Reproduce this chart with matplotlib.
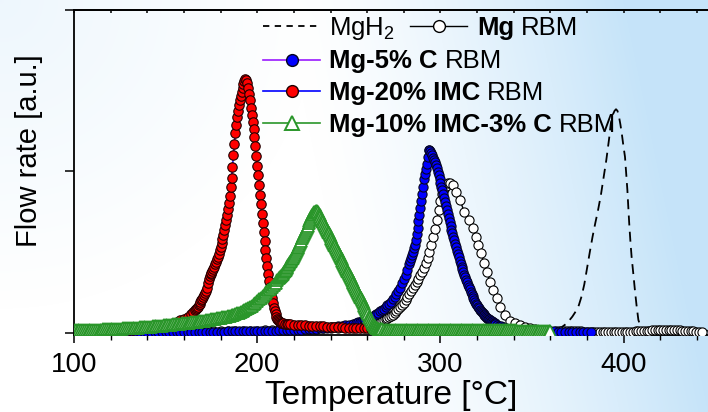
import numpy as np
import matplotlib
matplotlib.use("Agg")
import matplotlib.pyplot as plt
from matplotlib.lines import Line2D

plt.rcParams['font.family'] = ['Liberation Sans', 'DejaVu Sans']
plt.rcParams['mathtext.fontset'] = 'custom'
plt.rcParams['mathtext.rm'] = 'Liberation Sans'
plt.rcParams['mathtext.it'] = 'Liberation Sans:italic'
plt.rcParams['mathtext.bf'] = 'Liberation Sans:bold'

# ---------------------------------------------------------------- data
# (temperature [°C], flow rate [a.u.])
mgh2 = [(355, 0.0), (360, .005), (363, .015), (366, .033), (369, .058), (372, .1),
        (374, .135), (375.5, .17), (377, .225), (378.5, .3), (380, .4), (381.5, .5),
        (383, .595), (384.5, .68), (386, .76), (387.5, .85), (389, .96), (390.5, 1.07),
        (392, 1.2), (393, 1.3), (394, 1.35), (395, 1.375), (395.8, 1.385), (396.6, 1.375),
        (397.4, 1.34), (398.2, 1.29), (399, 1.23), (399.8, 1.16), (400.7, 1.09),
        (401.4, .98), (402, .884), (402.5, .78), (403, .678), (403.6, .575), (404.3, .471),
        (405.2, .37), (406.1, .265), (407, .17), (408, .079), (409, .045), (410.5, .03),
        (413, .022), (418, .018), (425, .015), (435, .013), (446, .012)]

mg_rbm = [(100, .003), (104, .003), (108, .003), (112, .003), (116, .003), (120, .004),
          (124, .004), (128, .004), (132, .004), (136, .004), (140, .005), (144, .005),
          (148, .005), (152, .005), (156, .006), (160, .006), (164, .006), (168, .007),
          (172, .007), (176, .008), (180, .008), (184, .009), (188, .01), (192, .011),
          (196, .012), (200, .013), (204, .014), (208, .015), (212, .016), (216, .018),
          (220, .019), (224, .021), (228, .023), (232, .025), (236, .027), (240, .029),
          (244, .032), (248, .035), (252, .038), (256, .041),
          (259, .045), (260, .047), (261, .049), (262, .051), (263, .054), (264, .057),
          (265, .06), (266, .064), (267, .068), (268, .072), (269, .077), (270, .082),
          (271, .088), (272, .095), (273, .103), (274, .112), (275, .122), (276, .133),
          (277, .145), (278, .158), (279, .172), (280, .187), (281, .203), (282, .22),
          (283, .238), (284, .257), (285, .277), (286, .296), (287, .315), (288, .335),
          (289, .355), (290, .378), (291, .402), (292, .43), (293, .46), (294, .5),
          (295, .545), (296, .59), (297, .64), (298, .7), (299, .76), (300, .815),
          (301, .86), (302, .89), (303, .912), (304, .925),
          (305.2, .93), (306.8, .915), (308.5, .874), (310.7, .822), (312.9, .75),
          (315.3, .698), (317.6, .647), (319.4, .595), (320.7, .544), (322, .492),
          (323.8, .434), (325.3, .378), (327.1, .316), (328.9, .265), (330.7, .213),
          (332.5, .161), (335.2, .11), (337.9, .074), (340.7, .058), (343.5, .045),
          (346.3, .035), (349, .027), (351.8, .021), (354.5, .017), (357.3, .014),
          (360, .012), (362.8, .01),
          (364.5, .01), (366, .01), (367.5, .009), (369, .009), (370.5, .009), (372, .008),
          (373.5, .008), (375, .008), (376.5, .008), (378, .007), (379.5, .007), (381, .007),
          (382.5, .007), (384, .007), (385.5, .007), (387, .006), (388.5, .006), (390, .006),
          (391.5, .006), (393, .006), (394.5, .006), (396, .006), (397.5, .006), (399, .006),
          (400.5, .006), (402, .007), (403.5, .007), (405, .007), (406.5, .008), (408, .009),
          (409.5, .01), (411, .011), (412.5, .012), (414, .013), (415.5, .014), (417, .015),
          (418.5, .016), (420, .017), (421.5, .017), (423, .018), (424.5, .018), (426, .017),
          (427.5, .017), (429, .016), (430.5, .015), (432, .013), (433.5, .012), (435, .01),
          (436.5, .009), (438, .008), (439.5, .007), (441, .006), (442.5, .005)]

mg_5c = [(100, .003), (102, .003), (104, .003), (106, .003), (108, .003), (110, .003),
         (112, .003), (114, .003), (116, .003), (118, .003), (120, .003), (122, .003),
         (124, .003), (126, .004), (128, .004), (130, .004), (132, .004), (134, .004),
         (136, .004), (138, .004), (140, .004), (142, .004), (144, .005), (146, .005),
         (148, .005), (150, .005), (152, .005), (154, .005), (156, .005), (158, .005),
         (160, .005), (162, .005), (164, .006), (166, .006), (168, .006), (170, .006),
         (172, .006), (174, .007), (176, .007), (178, .007), (180, .007), (182, .007),
         (184, .008), (186, .008), (188, .008), (190, .008), (192, .009), (194, .009),
         (196, .009), (198, .01), (200, .01), (202, .01), (204, .011), (206, .011),
         (208, .012), (210, .013), (212, .014), (214, .015), (216, .015), (218, .016),
         (220, .017), (222, .018), (224, .019), (226, .021), (228, .022), (230, .024),
         (232, .025), (234, .027), (236, .029), (238, .031), (240, .033),
         (242, .036), (244, .039), (246, .042), (248, .046), (250, .05), (252, .055),
         (254, .061), (255, .064), (256, .068), (257, .072), (258, .076), (259, .081),
         (260, .086), (261, .091), (262, .097), (263, .103), (264, .11), (265, .117),
         (266, .124), (267, .132), (268, .14), (269, .149), (270, .158), (271, .169),
         (272, .18), (273, .193), (274, .207), (275, .223), (276, .24), (277, .26),
         (278, .28), (279, .305), (280, .332), (281, .36), (282, .39), (283, .425),
         (283.5, .443), (284, .462),
         (284.5, .482), (285, .502), (285.5, .522), (286, .545), (286.5, .575), (287, .61),
         (287.5, .65), (288, .69), (288.5, .73), (289, .77), (289.5, .815), (290, .86),
         (290.5, .905), (291, .95), (291.5, .985), (292, 1.015), (292.5, 1.045),
         (293, 1.09), (293.5, 1.135),
         (294, 1.133), (294.5, 1.125), (295, 1.114), (295.5, 1.1), (296, 1.085),
         (296.5, 1.07), (297, 1.055), (297.5, 1.04), (298, 1.02), (298.5, .998),
         (299, .975), (299.5, .952), (300, .929), (300.5, .906), (301, .882),
         (301.5, .858), (302, .834), (302.5, .81), (303, .786), (303.5, .761),
         (304, .736), (304.5, .711), (305, .686), (305.5, .661), (306, .636),
         (306.5, .615), (307, .594), (307.5, .572), (308, .551), (308.5, .53),
         (309, .509), (309.5, .488), (310, .468), (310.5, .447), (311, .427),
         (311.5, .41), (312, .393), (312.5, .376), (313, .36), (313.5, .344),
         (314, .328), (314.5, .312), (315, .297), (315.5, .282), (316, .268),
         (316.5, .255), (317, .242), (317.5, .229), (318, .216), (318.5, .204),
         (319, .192), (319.5, .18), (320, .17), (320.5, .16), (321, .151),
         (321.5, .143), (322, .135), (322.5, .127), (323, .12), (323.5, .113),
         (324, .107), (324.5, .101), (325, .096), (325.5, .091), (326, .086),
         (326.5, .082), (327, .078), (327.5, .074), (328, .07), (328.5, .066),
         (329, .062), (329.5, .058), (330, .055), (331, .049), (332, .044), (333, .039),
         (334, .035), (335, .031), (336, .028), (337, .025), (338, .023), (339, .021),
         (340, .019), (342, .016), (344, .014), (346, .012), (348, .011), (350, .01),
         (352, .01), (354, .009), (356, .009), (358, .008), (360, .008), (362, .008),
         (364, .007), (366, .007), (368, .007), (370, .006), (372, .006), (374, .006),
         (376, .006), (378, .005), (380, .005), (382, .005)]

mg_20imc = [(100, .004), (102, .0045), (104, .005), (106, .0055), (108, .006), (110, .0065),
            (112, .007), (114, .0075), (116, .008), (118, .009), (120, .010), (122, .011),
            (124, .012), (126, .0135), (128, .015), (130, .017), (132, .019), (134, .0215),
            (136, .024), (138, .027), (140, .030), (142, .0335), (144, .037), (146, .041),
            (148, .045), (150, .05), (152, .055), (154, .061), (156, .068), (158, .076),
            (160, .086), (162, .098), (164, .115),
            (165, .127), (166, .14), (166.5, .147), (167, .155), (167.5, .162), (168, .17),
            (168.5, .18), (169, .19), (169.5, .2), (170, .21), (170.5, .222), (171, .235),
            (171.5, .247), (172, .26), (172.5, .28), (173, .31), (173.5, .335), (174, .35),
            (174.5, .362), (175, .373), (175.5, .385), (176, .397), (176.5, .41),
            (177, .425), (177.5, .44), (178, .455), (178.5, .472), (179, .49),
            (179.5, .51), (180, .533), (180.5, .557), (181, .582), (181.5, .608),
            (182, .636), (182.5, .665), (183, .697), (183.5, .73), (184, .765),
            (184.5, .805), (185, .85), (185.5, .905), (186, .96), (186.5, 1.03),
            (187, 1.1), (187.5, 1.17), (188, 1.235), (188.5, 1.29), (189, 1.335),
            (189.5, 1.375), (190, 1.41), (190.5, 1.44), (191, 1.465), (191.5, 1.49),
            (192, 1.515), (192.5, 1.54), (193, 1.56), (193.5, 1.575), (194, 1.565),
            (194.5, 1.545), (195, 1.515), (195.5, 1.48), (196, 1.44), (196.5, 1.395),
            (197, 1.35), (197.5, 1.305), (198, 1.26), (198.5, 1.21), (199, 1.155),
            (199.5, 1.095), (200, 1.035), (200.5, .975), (201, .915), (201.5, .855),
            (202, .795), (202.5, .735), (203, .68), (203.5, .625), (204, .57),
            (204.5, .515), (205, .462), (205.5, .412), (206, .365), (206.5, .322),
            (207, .282), (207.5, .245), (208, .212), (208.5, .182), (209, .156),
            (209.5, .133), (210, .113), (210.5, .097), (211, .084), (211.5, .077),
            (212, .07), (212.5, .066), (213, .063), (213.5, .06), (214, .058), (215, .056),
            (216, .054), (217, .052), (218, .051), (220, .049), (222, .048), (224, .046),
            (226, .045), (228, .043), (230, .042), (232, .041), (234, .04), (236, .039),
            (238, .038), (240, .037), (242, .036), (244, .035), (246, .034), (248, .032),
            (250, .031), (252, .03), (254, .029), (256, .028), (258, .027), (260, .026),
            (262, .025), (264, .024), (266, .023), (268, .022), (270, .022), (272, .021),
            (274, .02), (276, .019), (278, .019), (280, .018), (282, .017), (284, .017),
            (286, .016), (288, .016), (290, .015), (292, .015), (294, .014), (296, .013),
            (298, .013), (300, .012), (302, .012), (304, .011), (306, .011), (308, .01),
            (310, .01), (312, .01), (314, .009), (316, .009), (318, .009), (320, .008),
            (322, .008), (324, .008), (326, .007), (328, .007), (330, .007), (332, .007),
            (334, .006), (336, .006), (338, .006), (340, .006), (342, .005), (344, .005),
            (346, .005), (348, .005), (350, .005)]

mg_10imc_3c = [(100, .016), (101, .016), (102, .016), (103, .0165), (104, .017), (105, .017),
               (106, .017), (107, .0175), (108, .018), (109, .018), (110, .018), (111, .0185),
               (112, .019), (113, .019), (114, .019), (115, .0195), (116, .02), (117, .0205),
               (118, .021), (119, .0215), (120, .022), (121, .0225), (122, .023), (123, .0235),
               (124, .024), (125, .0245), (126, .025), (127, .026), (128, .027), (129, .0275),
               (130, .028), (131, .029), (132, .03), (133, .0305), (134, .031), (135, .032),
               (136, .033), (137, .0335), (138, .034), (139, .035), (140, .036), (141, .037),
               (142, .038), (143, .039), (144, .04), (145, .041), (146, .042), (147, .043),
               (148, .044), (149, .0455), (150, .047), (151, .048), (152, .049), (153, .05),
               (154, .051), (155, .0525), (156, .054), (157, .055), (158, .056), (159, .057),
               (160, .058), (161, .0595), (162, .061), (163, .0625), (164, .064), (165, .0655),
               (166, .067), (167, .069), (168, .071), (169, .0725), (170, .074), (171, .0755),
               (172, .077), (173, .0785), (174, .08), (175, .082), (176, .084), (177, .086),
               (178, .088), (179, .09), (180, .092), (181, .0945), (182, .097), (183, .0995),
               (184, .102), (185, .105), (186, .108), (187, .1115), (188, .115), (189, .119),
               (190, .123), (191, .128), (192, .133), (193, .139), (194, .145), (195, .1515),
               (196, .158), (197, .1665), (198, .175), (199, .185), (200, .195), (201, .2065),
               (202, .218), (203, .229), (204, .24), (205, .251), (206, .262), (207, .2735),
               (208, .285), (209, .2975), (210, .31), (211, .3235), (212, .337), (212.5, .344),
               (213, .351), (213.5, .358), (214, .366), (214.5, .374), (215, .382),
               (215.5, .39), (216, .399), (216.5, .408), (217, .417), (217.5, .426),
               (218, .436), (218.5, .446), (219, .456), (219.5, .466), (220, .477),
               (220.5, .488), (221, .499), (221.5, .51), (222, .522), (222.5, .534),
               (223, .546), (223.5, .558), (224, .571), (224.5, .584), (225, .597),
               (225.5, .61), (226, .624), (226.5, .637), (227, .651), (227.5, .664),
               (228, .678), (228.5, .691), (229, .704), (229.5, .716), (230, .727),
               (230.5, .737), (231, .745), (231.5, .751), (232, .755), (232.5, .752),
               (233, .745), (233.5, .737), (234, .727), (234.5, .717), (235, .706),
               (235.5, .695), (236, .684), (236.5, .672), (237, .661), (237.5, .65),
               (238, .638), (238.5, .627), (239, .615), (239.5, .604), (240, .592),
               (240.5, .581), (241, .569), (241.5, .558), (242, .546), (242.5, .535),
               (243, .523), (243.5, .512), (244, .5), (244.5, .489), (245, .477),
               (245.5, .466), (246, .454), (246.5, .443), (247, .431), (247.5, .42),
               (248, .408), (248.5, .397), (249, .385), (249.5, .374), (250, .362),
               (250.5, .351), (251, .339), (251.5, .328), (252, .316), (252.5, .305),
               (253, .293), (253.5, .282), (254, .27), (254.5, .259), (255, .247),
               (255.5, .236), (256, .224), (256.5, .213), (257, .201), (257.5, .189),
               (258, .177), (258.5, .165), (259, .152), (259.5, .139), (260, .126),
               (260.5, .113), (261, .1), (261.5, .088), (262, .076), (262.5, .066),
               (263, .056), (263.5, .048), (264, .041), (264.5, .036), (265, .031),
               (265.5, .028), (266, .025), (266.5, .023), (267, .022), (267.5, .021),
               (268, .02), (269, .0195), (270, .019), (271, .019), (272, .019), (273, .0185),
               (274, .018), (275, .018), (276, .018), (277, .0175), (278, .017), (279, .017),
               (280, .017), (281, .017), (282, .017), (283, .017), (284, .016), (285, .016),
               (286, .016), (287, .016), (288, .016), (289, .016), (290, .016), (291, .016),
               (292, .016), (293, .016), (294, .015), (295, .015), (296, .015), (297, .015),
               (298, .015), (299, .015), (300, .015), (301, .015), (302, .015), (303, .015),
               (304, .015), (305, .015), (306, .015), (307, .015), (308, .015), (309, .015),
               (310, .015), (311, .015), (312, .014), (313, .014), (314, .014), (315, .014),
               (316, .014), (317, .014), (318, .014), (319, .014), (320, .014), (321, .014),
               (322, .014), (323, .014), (324, .014), (325, .014), (326, .014), (327, .014),
               (328, .014), (329, .014), (330, .014), (331, .014), (332, .014), (333, .014),
               (334, .014), (335, .014), (336, .014), (337, .014), (338, .014), (339, .014),
               (340, .014), (341, .014), (342, .013), (343, .013), (344, .013), (345, .013),
               (346, .013), (347, .013), (348, .013), (349, .013), (350, .013), (351, .013),
               (352, .013), (353, .013), (354, .013), (355, .013), (356, .013), (357, .013),
               (358, .013), (359, .013), (360, .013)]

x_ticks = [100, 200, 300, 400]
x_minor = [100, 120, 140, 160, 180, 200, 220, 240, 260, 280, 300, 320, 340, 360, 380, 400, 420, 440]
y_ticks = [0, 1, 2]

GREEN = '#2a962a'
PURPLE = '#9a1aff'
BLUE = '#0000ff'
RED = '#ff0000'

# ---------------------------------------------------------------- figure
W, H = 708, 412
fig = plt.figure(figsize=(W / 100, H / 100), dpi=100)
fig.patch.set_facecolor('white')

# soft white-to-light-blue backdrop
bg = fig.add_axes([0, 0, 1, 1], zorder=-10)
u = np.linspace(0, 1, W)[None, :]
v = np.linspace(0, 1, H)[:, None]
w = np.clip((u - 0.52 + 0.12 * (1 - v)) / 0.48, 0, 1) ** 1.35
w = w + 0.30 * np.clip(1 - np.sqrt((u / 0.45) ** 2 + (v / 0.75) ** 2), 0, 1)
w = np.clip(w, 0, 1)
tint = np.array([198, 228, 249]) / 255.0
img = 1 - w[..., None] * (1 - tint)
bg.imshow(img, aspect='auto', extent=[0, 1, 0, 1], origin='upper')
bg.axis('off')

ax = fig.add_axes([74 / W, 1 - 335 / H, 1 - 74 / W, 325 / H])
ax.patch.set_alpha(0)


def split(pairs):
    t, y = zip(*pairs)
    return np.array(t), np.array(y)


t, y = split(mgh2)
ax.plot(t, y, color='black', lw=1.3, ls=(0, (5.5, 3.5)), zorder=2)

t, y = split(mg_rbm)
ax.plot(t, y, color='black', lw=1.0, marker='o', ms=6.6, mfc='white', mec='black',
        mew=0.8, zorder=3)

t, y = split(mg_5c)
ax.plot(t, y, color=PURPLE, lw=1.0, marker='o', ms=6.6, mfc=BLUE, mec='#050520',
        mew=0.8, zorder=4)

t, y = split(mg_20imc)
ax.plot(t, y, color=BLUE, lw=1.0, marker='o', ms=6.8, mfc=RED, mec='#200000',
        mew=0.8, zorder=5)

t, y = split(mg_10imc_3c)
ax.plot(t, y, color=GREEN, lw=1.0, marker='^', ms=8.0, mfc='white', mec=GREEN,
        mew=1.3, zorder=6)

ax.set_xlim(100, 446)
ax.set_ylim(-0.0143, 2.0)

ax.set_xticks(x_ticks)
ax.set_xticks(x_minor, minor=True)
ax.set_yticks(y_ticks)
ax.set_yticklabels([])
ax.tick_params(axis='x', which='major', direction='out', length=6, width=1.1,
               labelsize=20, pad=6)
ax.tick_params(axis='x', which='minor', direction='out', length=3.6, width=1.0)
ax.tick_params(axis='y', which='major', direction='out', length=6.5, width=1.1)
ax.spines['right'].set_visible(False)
for s in ('left', 'bottom', 'top'):
    ax.spines[s].set_linewidth(1.3)

top = ax.secondary_xaxis('top')
top.set_xticks(x_ticks)
top.set_xticks(x_minor, minor=True)
top.tick_params(axis='x', which='both', direction='in', length=2.5, width=1.1,
                labeltop=False)
top.spines['top'].set_linewidth(1.3)

ax.set_xlabel('Temperature [°C]', fontsize=24, labelpad=2)
ax.set_ylabel('Flow rate [a.u.]', fontsize=21)
ax.yaxis.set_label_coords(-0.049, 0.568)

# ---------------------------------------------------------------- legend
LFS = 18.5


def fx(px):
    return px / W


def fy(py):
    return 1 - py / H


def handle(x0, x1, yc, xm, **kw):
    line_kw = {k: kw.pop(k) for k in ('color', 'lw', 'ls') if k in kw}
    fig.add_artist(Line2D([fx(x0), fx(x1)], [fy(yc), fy(yc)], transform=fig.transFigure,
                          **line_kw))
    if kw:
        fig.add_artist(Line2D([fx(xm)], [fy(yc)], transform=fig.transFigure,
                              ls='none', **kw))


def label(x, base, bold, rest):
    txt = fig.text(fx(x), fy(base), bold, fontsize=LFS, fontweight='bold',
                   va='baseline', ha='left')
    ax.annotate(rest, xy=(1, 0), xycoords=txt, xytext=(7, 0),
                textcoords='offset pixels', va='bottom', ha='left', fontsize=LFS,
                annotation_clip=False)
    return txt


# row 1: MgH2 and Mg RBM
handle(263, 317, 26, None, color='black', lw=1.3, ls=(0, (3.5, 3)))
fig.text(fx(329), fy(35), 'MgH$_2$', fontsize=LFS, va='baseline', ha='left')
handle(410, 467, 26, 439, color='black', lw=1.0, marker='o', ms=8.5, mfc='white',
       mec='black', mew=1.0)
label(477, 35, 'Mg', 'RBM')

handle(263, 320, 60, 292, color=PURPLE, lw=1.2, marker='o', ms=8.5, mfc=BLUE,
       mec='#050520', mew=1.0)
label(329, 68, 'Mg-5% C', 'RBM')

handle(263, 320, 91, 292, color=BLUE, lw=1.2, marker='o', ms=8.5, mfc=RED,
       mec='#200000', mew=1.0)
label(329, 100, 'Mg-20% IMC', 'RBM')

handle(263, 320, 123, 292, color=GREEN, lw=1.2, marker='^', ms=9.5, mfc='white',
       mec=GREEN, mew=1.4)
label(329, 132, 'Mg-10% IMC-3% C', 'RBM')

fig.savefig('out.png', dpi=100)
